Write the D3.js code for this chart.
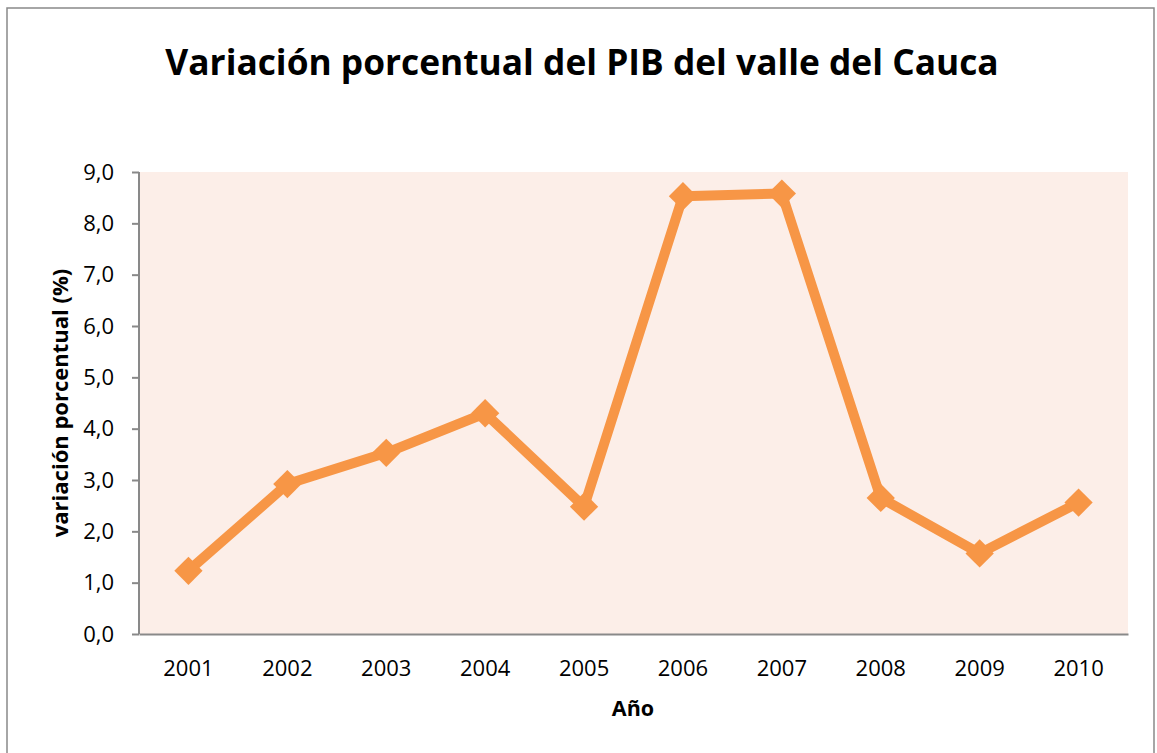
<!DOCTYPE html>
<html>
<head>
<meta charset="utf-8">
<script src="https://cdn.jsdelivr.net/npm/d3@7"></script>
<style>
  body { margin: 0; background: #fff; }
  svg text { font-family: "Open Sans", Lato, sans-serif; fill: #000; }
</style>
</head>
<body>
<svg id="chart"></svg>
<script>
const years = ["2001", "2002", "2003", "2004", "2005", "2006", "2007", "2008", "2009", "2010"];
const variation = [1.23, 2.92, 3.53, 4.30, 2.48, 8.53, 8.58, 2.65, 1.57, 2.56];
const yTicks = [0, 1, 2, 3, 4, 5, 6, 7, 8, 9];

const width = 1157;
const height = 753;
const margin = { top: 172, right: 29, bottom: 119, left: 139 };

const svg = d3.select("#chart").attr("width", width).attr("height", height);

// outer chart frame
svg.append("rect")
  .attr("x", 7).attr("y", 8)
  .attr("width", 1147).attr("height", 760)
  .attr("fill", "#fff")
  .attr("stroke", "#898989")
  .attr("stroke-width", 1.5);

const x = d3.scaleBand()
  .domain(years)
  .range([margin.left, width - margin.right]);

const y = d3.scaleLinear()
  .domain([0, 9])
  .range([height - margin.bottom, margin.top]);

// plot background
svg.append("rect")
  .attr("x", margin.left).attr("y", margin.top)
  .attr("width", width - margin.left - margin.right)
  .attr("height", height - margin.top - margin.bottom)
  .attr("fill", "#FCEEE8");

const yAxis = svg.append("g")
  .attr("transform", `translate(${margin.left},0)`)
  .call(d3.axisLeft(y).tickValues(yTicks).tickSize(7).tickPadding(18)
    .tickFormat(d => d3.format(".1f")(d).replace(".", ",")));

const xAxis = svg.append("g")
  .attr("transform", `translate(0,${height - margin.bottom})`)
  .call(d3.axisBottom(x).tickSize(0).tickPadding(26));

[yAxis, xAxis].forEach(a => {
  a.select(".domain").attr("stroke", "#898989").attr("stroke-width", 2);
  a.selectAll(".tick line").attr("stroke", "#898989").attr("stroke-width", 2);
  a.selectAll("text").style("font-size", "22px").attr("fill", "#000");
});
yAxis.select(".domain").attr("d", `M0,${margin.top}V${height - margin.bottom}`);

const line = d3.line()
  .x((d, i) => x(years[i]) + x.bandwidth() / 2)
  .y(d => y(d));

svg.append("path")
  .datum(variation)
  .attr("d", line)
  .attr("fill", "none")
  .attr("stroke", "#F79646")
  .attr("stroke-width", 10)
  .attr("stroke-linejoin", "round");

svg.selectAll("path.marker")
  .data(variation)
  .join("path")
  .attr("class", "marker")
  .attr("d", d3.symbol(d3.symbolSquare, 400))
  .attr("transform", (d, i) => `translate(${x(years[i]) + x.bandwidth() / 2},${y(d)}) rotate(45)`)
  .attr("fill", "#F79646");

svg.append("text")
  .attr("x", 582).attr("y", 75)
  .attr("text-anchor", "middle")
  .style("font-size", "35.3px")
  .style("font-weight", "bold")
  .text("Variación porcentual del PIB del valle del Cauca");

svg.append("text")
  .attr("x", 633).attr("y", 716)
  .attr("text-anchor", "middle")
  .style("font-size", "21.5px")
  .style("font-weight", "bold")
  .text("Año");

svg.append("text")
  .attr("transform", `translate(68,${(margin.top + height - margin.bottom) / 2}) rotate(-90)`)
  .attr("text-anchor", "middle")
  .style("font-size", "22px")
  .style("font-weight", "bold")
  .text("variación porcentual (%)");
</script>
</body>
</html>
